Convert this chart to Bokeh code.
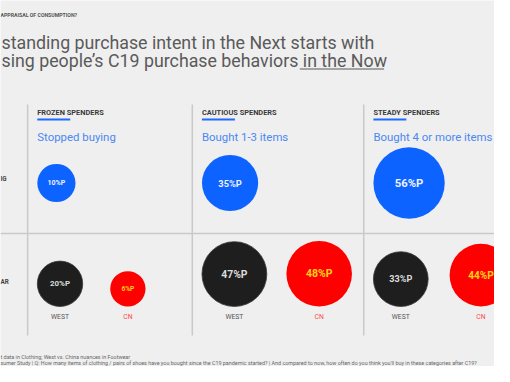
from bokeh.plotting import figure
from bokeh.models import ColumnDataSource, Range1d
from bokeh.core.properties import value
from bokeh.embed import file_html
from bokeh.resources import INLINE

# ---------------- data ----------------
segments = ["FROZEN SPENDERS", "CAUTIOUS SPENDERS", "STEADY SPENDERS"]
segment_desc = ["Stopped buying", "Bought 1-3 items", "Bought 4 or more items"]
overall_values = [10, 35, 56]
west_values = [20, 47, 33]
cn_values = [6, 48, 44]
markets = ["WEST", "CN"]
title_lines = ["standing purchase intent in the Next starts with",
               "sing people\u2019s C19 purchase behaviors in the Now"]
kicker = "APPRAISAL OF CONSUMPTION?"
row_labels = ["IG", "AR"]
footnotes = ["t data in Clothing; West vs. China nuances in Footwear",
             "sumer Study | Q: How many items of clothing / pairs of shoes have you bought since the C19 pandemic started? | And compared to now, how often do you think you'll buy in these categories after C19?"]

# ---------------- layout (slide pixels) ----------------
BG = "#efefef"
W, H = 494, 366
XS = 510 / W            # data units per screen pixel horizontally
col_left = [38, 208, 385]
divider_x = [28, 198, 375]
cn_offset = [93.5, 121, 111]
row1_cy = 182.5
row2_bottom = 306
market_label_y = 316
FONT = value("Roboto")


def radius(v):
    return 15.5 + 0.36 * v


def font_px(r):
    return "%.1fpx" % (2 + 0.26 * r)


p = figure(width=W, height=H, output_backend="svg", toolbar_location=None,
           x_range=Range1d(0, 510), y_range=Range1d(H, 0),
           min_border=0, background_fill_color=BG, border_fill_color=BG)
p.axis.visible = False
p.grid.visible = False
p.outline_line_color = None

# grid lines
p.segment(x0=divider_x, x1=divider_x, y0=[104] * 3, y1=[335] * 3,
          line_color="#c9c9c9", line_width=1.5)
p.segment(x0=[0], x1=[520], y0=[233], y1=[233], line_color="#c9c9c9", line_width=1.5)

# kicker + title
p.text(x=[0], y=[14], text=[kicker], text_font=FONT, text_font_style="bold",
       text_font_size="5.2px", text_color="#555555", text_baseline="middle")
p.text(x=[1, 1], y=[41.5, 60], text=title_lines, text_font=FONT,
       text_font_size="17.8px", text_color="#5a5a5a", text_baseline="alphabetic")
p.segment(x0=[309], x1=[396], y0=[68.5], y1=[68.5], line_color="#5a5a5a", line_width=1.2)

# column headers
p.text(x=col_left, y=[112] * 3, text=segments, text_font=FONT, text_font_style="bold",
       text_font_size="7.4px", text_color="#3a3a3a", text_baseline="middle")
p.segment(x0=col_left, x1=[c + 34 for c in col_left], y0=[119] * 3, y1=[119] * 3,
          line_color="#1f6bff", line_width=2)
p.text(x=col_left, y=[136] * 3, text=segment_desc, text_font=FONT,
       text_font_size="11.4px", text_color="#4a88f2", text_baseline="middle")

# row labels
p.text(x=[0, 0], y=[178, 281], text=row_labels, text_font=FONT, text_font_style="bold",
       text_font_size="6.3px", text_color="#444444", text_baseline="middle")

# row 1: overall (blue)
r1 = [radius(v) for v in overall_values]
src1 = ColumnDataSource(dict(
    x=[c + r * XS for c, r in zip(col_left, r1)], y=[row1_cy] * 3, r=r1,
    lab=["%d%%P" % v for v in overall_values], fs=[font_px(r) for r in r1]))
p.circle(x="x", y="y", radius="r", radius_units="screen", source=src1,
         fill_color="#0d63ff", line_color=None)
p.text(x="x", y="y", text="lab", text_font_size="fs", source=src1, text_font=FONT,
       text_font_style="bold", text_color="#eef2ff", text_align="center",
       text_baseline="middle")

# row 2: WEST (black) and CN (red)
rw = [radius(v) for v in west_values]
rc = [radius(v) for v in cn_values]
srcw = ColumnDataSource(dict(
    x=[c + r * XS for c, r in zip(col_left, rw)], y=[row2_bottom - r for r in rw], r=rw,
    lab=["%d%%P" % v for v in west_values], fs=[font_px(r) for r in rw]))
srcc = ColumnDataSource(dict(
    x=[c + o for c, o in zip(col_left, cn_offset)], y=[row2_bottom - r for r in rc], r=rc,
    lab=["%d%%P" % v for v in cn_values], fs=[font_px(r) for r in rc]))
p.circle(x="x", y="y", radius="r", radius_units="screen", source=srcw,
         fill_color="#1e1e1e", line_color="#3a3a3a", line_width=0.8)
p.text(x="x", y="y", text="lab", text_font_size="fs", source=srcw, text_font=FONT,
       text_font_style="bold", text_color="#dcdcdc", text_align="center",
       text_baseline="middle")
p.circle(x="x", y="y", radius="r", radius_units="screen", source=srcc,
         fill_color="#ff0000", line_color=None)
p.text(x="x", y="y", text="lab", text_font_size="fs", source=srcc, text_font=FONT,
       text_font_style="bold", text_color="#ffd21a", text_align="center",
       text_baseline="middle")

# market labels
p.text(x=srcw.data["x"], y=[market_label_y] * 3, text=[markets[0]] * 3, text_font=FONT,
       text_font_size="6.8px", text_color="#555555", text_align="center", text_baseline="middle")
p.text(x=srcc.data["x"], y=[market_label_y] * 3, text=[markets[1]] * 3, text_font=FONT,
       text_font_size="6.8px", text_color="#ff4a4a", text_align="center", text_baseline="middle")

# footnotes
p.text(x=[0, 0], y=[356, 362], text=footnotes, text_font=FONT,
       text_font_size="5.4px", text_color="#666666", text_baseline="middle")

open("out.html", "w").write(file_html(p, INLINE))
